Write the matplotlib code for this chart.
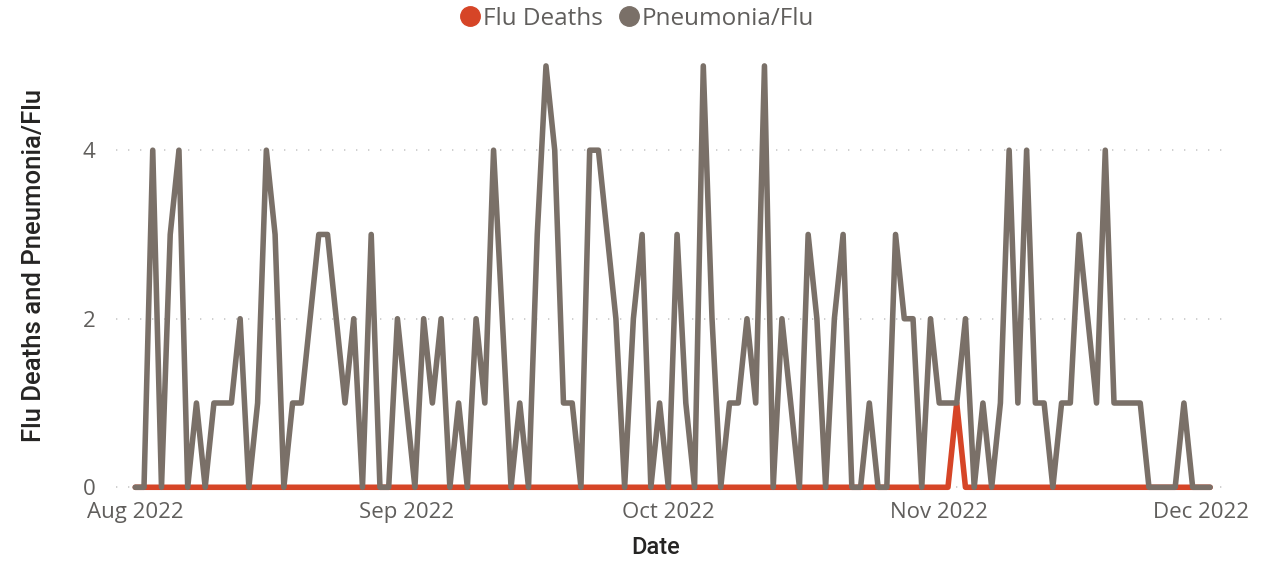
import matplotlib
matplotlib.use('Agg')
import matplotlib.pyplot as plt
import matplotlib.dates as mdates
from matplotlib.lines import Line2D
import pandas as pd

# daily values, Aug 1 2022 .. Dec 2 2022
start_date = '2022-08-01'
end_date = '2022-12-02'
pneumonia_aug = [0, 0, 4, 0, 3, 4, 0, 1, 0, 1, 1, 1, 2, 0, 1, 4, 3, 0, 1, 1, 2, 3, 3, 2, 1, 2, 0, 3, 0, 0, 2]
pneumonia_sep = [1, 0, 2, 1, 2, 0, 1, 0, 2, 1, 4, 2, 0, 1, 0, 3, 5, 4, 1, 1, 0, 4, 4, 3, 2, 0, 2, 3, 0, 1]
pneumonia_oct = [0, 3, 1, 0, 5, 2, 0, 1, 1, 2, 1, 5, 0, 2, 1, 0, 3, 2, 0, 2, 3, 0, 0, 1, 0, 0, 3, 2, 2, 0, 2]
pneumonia_nov = [1, 1, 1, 2, 0, 1, 0, 1, 4, 1, 4, 1, 1, 0, 1, 1, 3, 2, 1, 4, 1, 1, 1, 1, 0, 0, 0, 0, 1, 0]
pneumonia_dec = [0, 0]
flu_death_days = ['2022-11-03']  # days with one flu death, all others 0

y_ticks = [0, 2, 4]
month_ticks = ['2022-08-01', '2022-09-01', '2022-10-01', '2022-11-01', '2022-12-01']

dates = pd.date_range(start_date, end_date, freq='D')
pneumonia = pneumonia_aug + pneumonia_sep + pneumonia_oct + pneumonia_nov + pneumonia_dec
flu_deaths = [1 if d.strftime('%Y-%m-%d') in flu_death_days else 0 for d in dates]

RED = '#D64527'
GRAY = '#7A7068'
TEXT = '#605E5C'
FONT = 'Open Sans'

fig = plt.figure(figsize=(12.71, 5.61), dpi=100)
ax = fig.add_axes([0.0913, 0.1194, 0.8725, 0.7736])

ax.plot(dates, flu_deaths, color=RED, lw=4, solid_capstyle='round', solid_joinstyle='round', zorder=3)
ax.plot(dates, pneumonia, color=GRAY, lw=4, solid_capstyle='round', solid_joinstyle='round', zorder=4)

ax.set_xlim(pd.Timestamp(start_date) - pd.Timedelta(days=2.2), pd.Timestamp(end_date) + pd.Timedelta(days=1.7))
ax.set_ylim(-0.08, 5.07)

ax.set_yticks(y_ticks)
ax.set_xticks([pd.Timestamp(m) for m in month_ticks])
ax.xaxis.set_major_formatter(mdates.DateFormatter('%b %Y'))
ax.tick_params(length=0, labelcolor=TEXT, labelsize=16)
ax.tick_params(axis='y', pad=15)
ax.tick_params(axis='x', pad=6)
for lab in ax.get_xticklabels() + ax.get_yticklabels():
    lab.set_fontfamily(FONT)

ax.grid(axis='y', color='#C8C8C8', lw=1.2, linestyle=(0, (0.8, 6.4)))
ax.set_axisbelow(True)
for s in ax.spines.values():
    s.set_visible(False)

fig.text(34 / 1271, 1 - 266 / 561, 'Flu Deaths and Pneumonia/Flu', rotation=90, ha='center', va='center',
         fontsize=18.5, color='#252423', fontfamily='Roboto', fontweight='medium')
fig.text(656 / 1271, 1 - 548 / 561, 'Date', ha='center', va='center',
         fontsize=17, color='#252423', fontfamily='Roboto', fontweight='medium')

handles = [Line2D([], [], marker='o', color=RED, ls='none', markersize=14),
           Line2D([], [], marker='o', color=GRAY, ls='none', markersize=14)]
fig.legend(handles, ['Flu Deaths', 'Pneumonia/Flu'], loc='center', bbox_to_anchor=(0.5, 1 - 19 / 561),
           ncol=2, frameon=False, handletextpad=0.0, columnspacing=0.5, handlelength=1.1,
           prop={'family': FONT, 'size': 17.5}, labelcolor=TEXT)

fig.savefig('out.png', dpi=100)
